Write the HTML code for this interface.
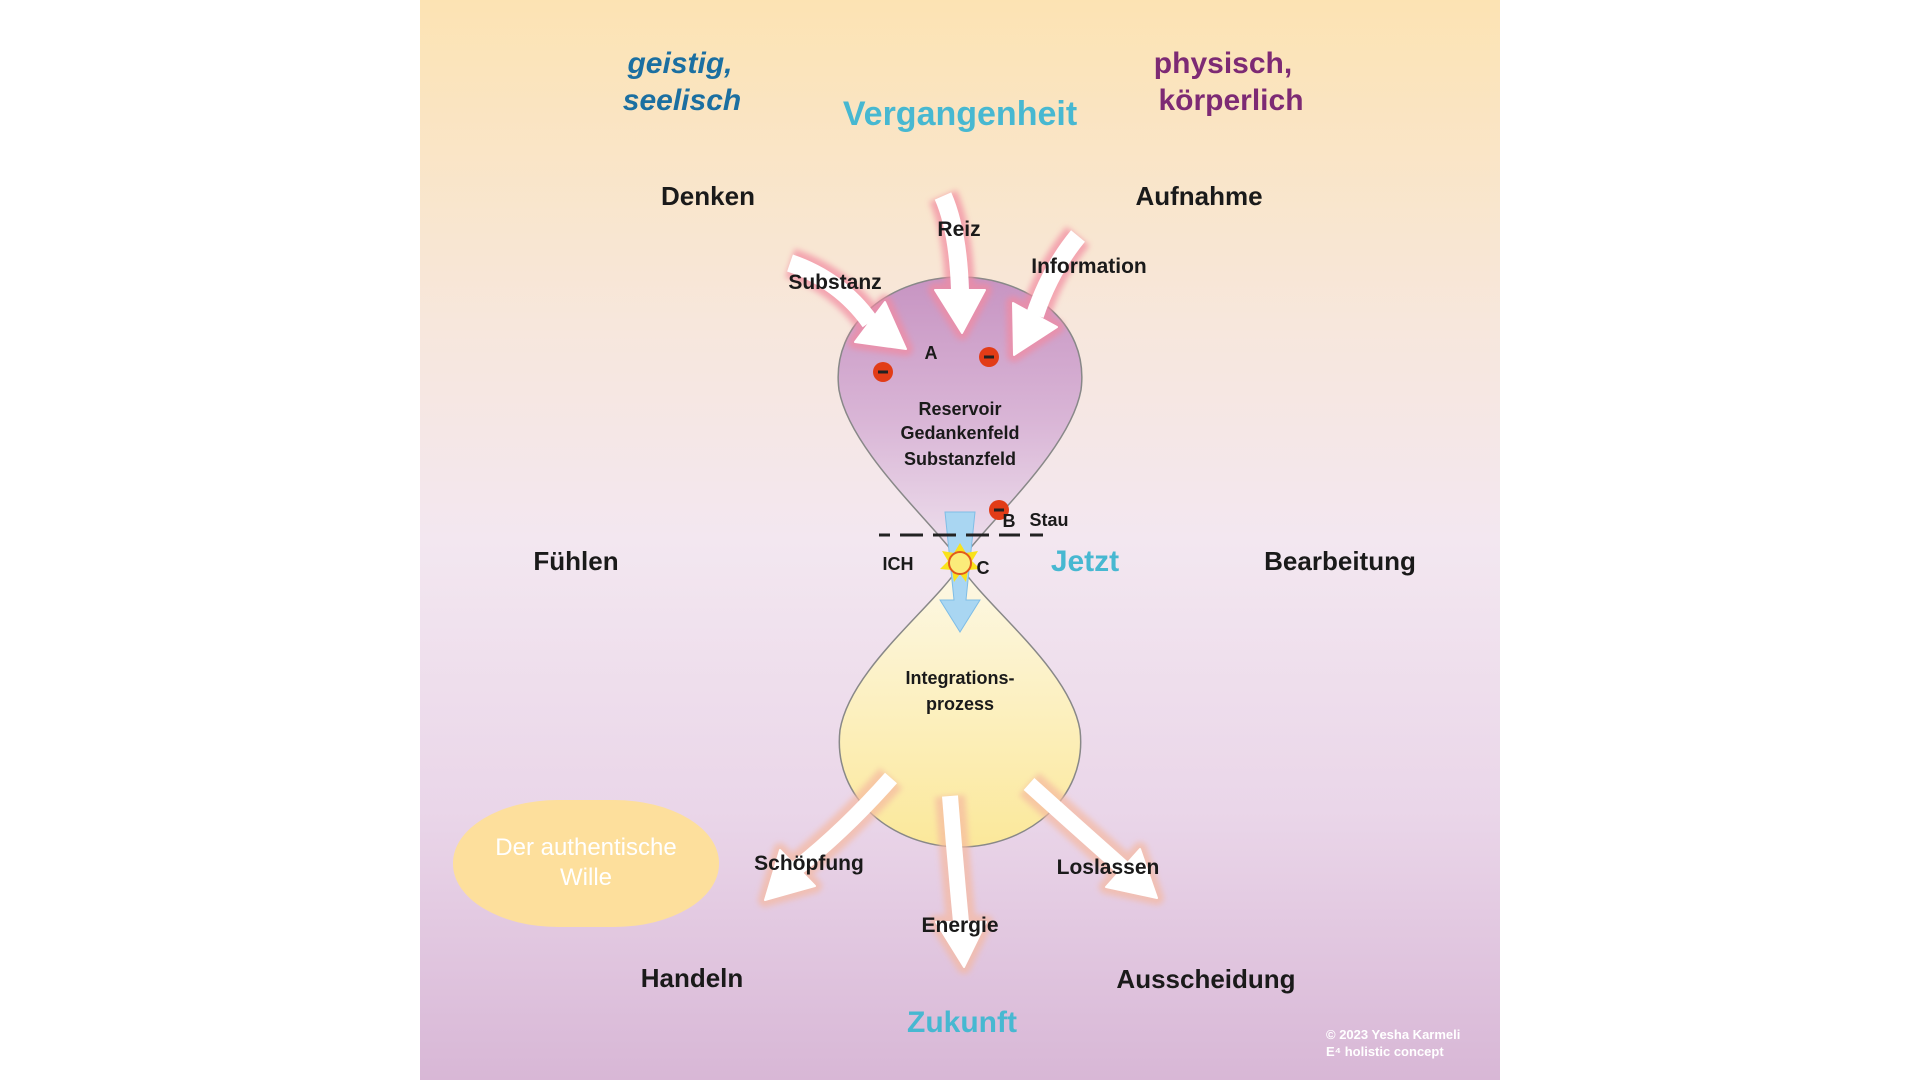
<!DOCTYPE html>
<html><head><meta charset="utf-8"><style>
html,body{margin:0;padding:0;background:#fff;width:1920px;height:1080px;overflow:hidden}
svg{position:absolute;left:0;top:0}
text{font-family:"Liberation Sans",sans-serif}
</style></head><body>
<svg width="1920" height="1080" viewBox="0 0 1920 1080">
<defs>
<linearGradient id="bg" x1="0" y1="0" x2="0" y2="1">
<stop offset="0" stop-color="#fce3b3"/><stop offset="0.3" stop-color="#f7e7dc"/>
<stop offset="0.5" stop-color="#f3e7f0"/><stop offset="0.75" stop-color="#ead6e9"/><stop offset="1" stop-color="#d8b7d6"/>
</linearGradient>
<linearGradient id="up" x1="0" y1="0" x2="0" y2="1">
<stop offset="0" stop-color="#c794c2"/><stop offset="0.5" stop-color="#d9b5d6"/><stop offset="1" stop-color="#efe2ee"/>
</linearGradient>
<linearGradient id="lo" x1="0" y1="0" x2="0" y2="1">
<stop offset="0" stop-color="#fdf8e6"/><stop offset="1" stop-color="#fbe89a"/>
</linearGradient>
<filter id="gl" x="-30%" y="-30%" width="160%" height="160%"><feGaussianBlur stdDeviation="3"/></filter>
</defs>
<rect x="420" y="0" width="1080" height="1080" fill="url(#bg)"/>
<rect x="453" y="800" width="266" height="127" rx="105" ry="63" fill="#fddf9c"/>
<text x="586" y="855" font-size="24" fill="#fff" text-anchor="middle">Der authentische</text>
<text x="586" y="885" font-size="24" fill="#fff" text-anchor="middle">Wille</text>

<path d="M960,561 C930,520 850,450 839,390 C830,320 895,277 960,277 C1025,277 1090,320 1081,390 C1070,450 990,520 960,561 Z" fill="url(#up)" stroke="#888" stroke-width="1.5"/>
<path d="M960,566 C990,610 1070,670 1080,730 C1088,800 1025,847 960,847 C895,847 832,800 840,730 C850,670 930,610 960,566 Z" fill="url(#lo)" stroke="#888" stroke-width="1.5"/>

<g id="arrows">
<g filter="url(#gl)" stroke="#f28aa0" fill="#f28aa0" stroke-linejoin="round" opacity="0.7">
<path d="M790,263 Q840,280 870,322" stroke-width="30" fill="none"/><polygon points="855,342 885,302 906,349" stroke-width="14"/>
<path d="M943,196 Q958,230 960,290" stroke-width="30" fill="none"/><polygon points="935,290 985,290 962,333" stroke-width="14"/>
<path d="M1078,236 Q1050,270 1035,315" stroke-width="30" fill="none"/><polygon points="1057,327 1013,303 1014,355" stroke-width="14"/>
</g>
<g filter="url(#gl)" stroke="#f5b9a0" fill="#f5b9a0" stroke-linejoin="round" opacity="0.7">
<path d="M891,778 Q845,830 797,868" stroke-width="30" fill="none"/><polygon points="815,886 780,850 765,900" stroke-width="14"/>
<path d="M950,796 Q955,860 961,922" stroke-width="30" fill="none"/><polygon points="936,922 986,922 964,967" stroke-width="14"/>
<path d="M1029,784 Q1080,830 1123,868" stroke-width="30" fill="none"/><polygon points="1106,887 1140,849 1157,898" stroke-width="14"/>
</g>
<g fill="#fff" stroke="#fff" stroke-linejoin="round">
<path d="M790,263 Q840,280 870,322" stroke-width="18" fill="none"/><polygon points="855,342 885,302 906,349" stroke-width="2"/>
<path d="M943,196 Q958,230 960,290" stroke-width="18" fill="none"/><polygon points="935,290 985,290 962,333" stroke-width="2"/>
<path d="M1078,236 Q1050,270 1035,315" stroke-width="18" fill="none"/><polygon points="1057,327 1013,303 1014,355" stroke-width="2"/>
<path d="M891,778 Q845,830 797,868" stroke-width="16" fill="none"/><polygon points="815,886 780,850 765,900" stroke-width="2"/>
<path d="M950,796 Q955,860 961,922" stroke-width="16" fill="none"/><polygon points="936,922 986,922 964,967" stroke-width="2"/>
<path d="M1029,784 Q1080,830 1123,868" stroke-width="16" fill="none"/><polygon points="1106,887 1140,849 1157,898" stroke-width="2"/>
</g>
</g>

<polygon points="945,512 975,512 966,600 980,600 960,632 940,600 954,600" fill="#a9d6f2" stroke="#7fbde6" stroke-width="1"/>
<g stroke="#222" stroke-width="3">
<line x1="879" y1="535" x2="890" y2="535"/><line x1="900" y1="535" x2="923" y2="535"/><line x1="933" y1="535" x2="956" y2="535"/>
<line x1="966" y1="535" x2="989" y2="535"/><line x1="999" y1="535" x2="1020" y2="535"/><line x1="1030" y1="535" x2="1043" y2="535"/>
</g>
<polygon points="960,543 966,553 978,551 972,561 980,569 968,570 966,582 960,574 954,582 952,570 940,569 948,561 942,551 954,553" fill="#f9e21c"/>
<circle cx="960" cy="563" r="11" fill="#fbec7a" stroke="#e25a1c" stroke-width="2"/>
<g fill="#e23c17"><circle cx="883" cy="372" r="10"/><circle cx="989" cy="357" r="10"/><circle cx="999" cy="510" r="10"/></g>
<g stroke="#222" stroke-width="3"><line x1="878" y1="372" x2="888" y2="372"/><line x1="984" y1="357" x2="994" y2="357"/><line x1="994" y1="510" x2="1004" y2="510"/></g>

<g font-weight="bold" text-anchor="middle">
<text x="680" y="73" font-size="30" font-style="italic" fill="#1b6fa1">geistig,</text>
<text x="682" y="110" font-size="30" font-style="italic" fill="#1b6fa1">seelisch</text>
<text x="1223" y="73" font-size="30" fill="#7d2a74">physisch,</text>
<text x="1231" y="110" font-size="30" fill="#7d2a74">körperlich</text>
<text x="960" y="125" font-size="34" fill="#47b8d1">Vergangenheit</text>
<g font-size="26" fill="#1a1a1a">
<text x="708" y="205">Denken</text><text x="1199" y="205">Aufnahme</text>
<text x="576" y="570">Fühlen</text><text x="1340" y="570">Bearbeitung</text>
<text x="692" y="987">Handeln</text><text x="1206" y="988">Ausscheidung</text>
</g>
<text x="1085" y="571" font-size="30" fill="#47b8d1">Jetzt</text>
<text x="962" y="1032" font-size="30" fill="#47b8d1">Zukunft</text>
<g font-size="21" fill="#1a1a1a">
<text x="959" y="236">Reiz</text><text x="835" y="289">Substanz</text><text x="1089" y="273">Information</text>
<text x="809" y="870">Schöpfung</text><text x="960" y="932">Energie</text><text x="1108" y="874">Loslassen</text>
</g>
<g font-size="18" fill="#1a1a1a">
<text x="931" y="359">A</text>
<text x="960" y="415">Reservoir</text><text x="960" y="439">Gedankenfeld</text><text x="960" y="465">Substanzfeld</text>
<text x="960" y="684">Integrations-</text><text x="960" y="710">prozess</text>
<text x="1049" y="526">Stau</text><text x="1009" y="527">B</text><text x="898" y="570">ICH</text><text x="983" y="574">C</text>
</g>
</g>
<text x="1326" y="1039" font-size="13" font-weight="bold" fill="#fff">© 2023 Yesha Karmeli</text>
<text x="1326" y="1056" font-size="13" font-weight="bold" fill="#fff">E⁴ holistic concept</text>
</svg>
</body></html>
